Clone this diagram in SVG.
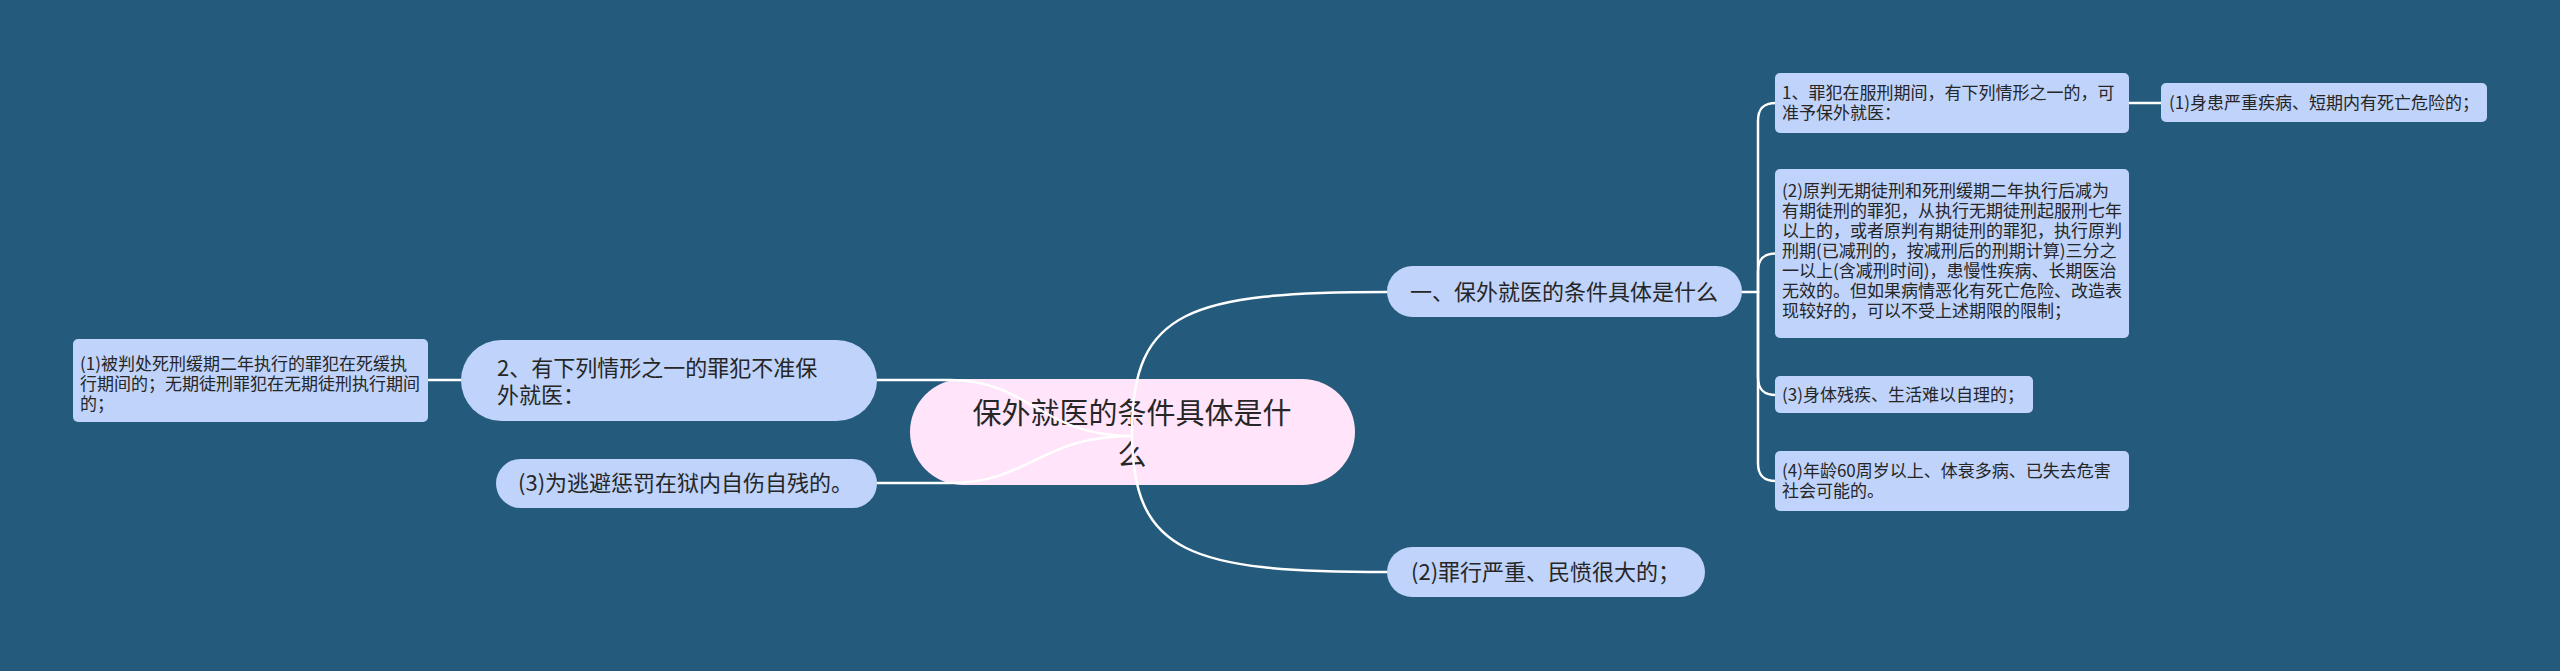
<svg xmlns="http://www.w3.org/2000/svg" width="2560" height="671" viewBox="0 0 2560 671">
<style>
.bg{fill:#245a7b}
.root{fill:#ffe4fa}
.n1{fill:#bfd3fb}
.n2{fill:#bfd3fb}
text{font-family:"Noto Sans CJK SC","Noto Sans",sans-serif;fill:#262626}
.t0{font-size:29px;text-anchor:middle}
.t1{font-size:22px}
.t2{font-size:17px}
.c{fill:none;stroke:#ffffff;stroke-width:2.5;stroke-linecap:round}
</style>
<rect class="bg" x="0" y="0" width="2560" height="671"/>

<g id="root">
<rect class="root" x="910" y="379" width="445" height="106" rx="53"/>
<text class="t0" x="1132" y="424">保外就医的条件具体是什</text>
<text class="t0" x="1132" y="466">么</text>
</g>

<g id="connectors">
<path class="c" d="M1132,432 C1132,310 1190,292 1387,292"/>
<path class="c" d="M1132,432 C1132,554 1190,572 1387,572"/>
<path class="c" d="M1132,436 C1040,436 1030,380 950,380 L877,380"/>
<path class="c" d="M1132,436 C1040,436 1030,483 950,483 L877,483"/>
<path class="c" d="M1742,292 L1758,292"/>
<path class="c" d="M1758,292 L1758,121 C1758,109 1763,103 1776,103"/>
<path class="c" d="M1758,292 L1758,271.5 C1758,259.5 1763,253.5 1776,253.5"/>
<path class="c" d="M1758,292 L1758,377 C1758,389 1763,395 1776,395"/>
<path class="c" d="M1758,292 L1758,463 C1758,475 1763,481 1776,481"/>
<path class="c" d="M2129,103 L2161,103"/>
<path class="c" d="M428,380 L462,380"/>
</g>

<g id="n-a">
<rect class="n1" x="1387" y="266" width="355" height="51" rx="25.5"/>
<text class="t1" x="1410" y="300">一、保外就医的条件具体是什么</text>
</g>

<g id="n-b">
<rect class="n1" x="1387" y="547" width="318" height="50" rx="25"/>
<text class="t1" x="1411" y="580">(2)罪行严重、民愤很大的；</text>
</g>

<g id="n-c">
<rect class="n1" x="461" y="340" width="416" height="81" rx="40.5"/>
<text class="t1" x="497" y="376">2、有下列情形之一的罪犯不准保</text>
<text class="t1" x="497" y="403">外就医：</text>
</g>

<g id="n-d">
<rect class="n1" x="496" y="459" width="381" height="49" rx="24.5"/>
<text class="t1" x="518" y="491">(3)为逃避惩罚在狱内自伤自残的。</text>
</g>

<g id="n-e">
<rect class="n2" x="1775" y="73" width="354" height="60" rx="5"/>
<text class="t2" x="1782" y="99">1、罪犯在服刑期间，有下列情形之一的，可</text>
<text class="t2" x="1782" y="119">准予保外就医：</text>
</g>

<g id="n-f">
<rect class="n2" x="2161" y="83" width="326" height="39" rx="5"/>
<text class="t2" x="2169" y="109">(1)身患严重疾病、短期内有死亡危险的；</text>
</g>

<g id="n-g">
<rect class="n2" x="1775" y="169" width="354" height="169" rx="5"/>
<text class="t2" x="1782" y="197">(2)原判无期徒刑和死刑缓期二年执行后减为</text>
<text class="t2" x="1782" y="217">有期徒刑的罪犯，从执行无期徒刑起服刑七年</text>
<text class="t2" x="1782" y="237">以上的，或者原判有期徒刑的罪犯，执行原判</text>
<text class="t2" x="1782" y="257">刑期(已减刑的，按减刑后的刑期计算)三分之</text>
<text class="t2" x="1782" y="277">一以上(含减刑时间)，患慢性疾病、长期医治</text>
<text class="t2" x="1782" y="297">无效的。但如果病情恶化有死亡危险、改造表</text>
<text class="t2" x="1782" y="317">现较好的，可以不受上述期限的限制；</text>
</g>

<g id="n-h">
<rect class="n2" x="1775" y="376" width="258" height="37" rx="5"/>
<text class="t2" x="1782" y="401">(3)身体残疾、生活难以自理的；</text>
</g>

<g id="n-i">
<rect class="n2" x="1775" y="451" width="354" height="60" rx="5"/>
<text class="t2" x="1782" y="477">(4)年龄60周岁以上、体衰多病、已失去危害</text>
<text class="t2" x="1782" y="497">社会可能的。</text>
</g>

<g id="n-j">
<rect class="n2" x="73" y="339" width="355" height="83" rx="5"/>
<text class="t2" x="80" y="370">(1)被判处死刑缓期二年执行的罪犯在死缓执</text>
<text class="t2" x="80" y="390">行期间的；无期徒刑罪犯在无期徒刑执行期间</text>
<text class="t2" x="80" y="410">的；</text>
</g>
</svg>
